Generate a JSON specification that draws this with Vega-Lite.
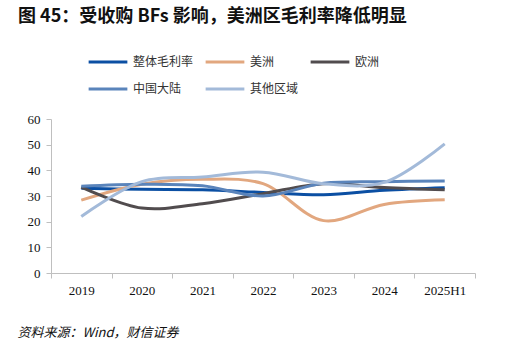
{
  "$schema": "https://vega.github.io/schema/vega-lite/v6.json",
  "width": 424,
  "height": 154,
  "autosize": {"type": "none"},
  "padding": {"left": 51, "top": 119, "right": 40, "bottom": 74},
  "background": "white",
  "title": {
    "text": "图 45：受收购 BFs 影响，美洲区毛利率降低明显",
    "anchor": "start",
    "frame": "group",
    "dx": -33,
    "font": "Noto Sans CJK SC",
    "fontSize": 18,
    "fontWeight": "bold",
    "color": "#111111",
    "offset": 15
  },
  "data": {
    "values": [
      {"year": "2019", "series": "整体毛利率", "value": 33.0},
      {"year": "2020", "series": "整体毛利率", "value": 32.6},
      {"year": "2021", "series": "整体毛利率", "value": 32.4},
      {"year": "2022", "series": "整体毛利率", "value": 31.4},
      {"year": "2023", "series": "整体毛利率", "value": 30.5},
      {"year": "2024", "series": "整体毛利率", "value": 32.2},
      {"year": "2025H1", "series": "整体毛利率", "value": 33.2},
      {"year": "2019", "series": "美洲", "value": 28.4},
      {"year": "2020", "series": "美洲", "value": 34.6},
      {"year": "2021", "series": "美洲", "value": 36.5},
      {"year": "2022", "series": "美洲", "value": 34.8},
      {"year": "2023", "series": "美洲", "value": 20.4},
      {"year": "2024", "series": "美洲", "value": 26.7},
      {"year": "2025H1", "series": "美洲", "value": 28.5},
      {"year": "2019", "series": "欧洲", "value": 33.5},
      {"year": "2020", "series": "欧洲", "value": 25.3},
      {"year": "2021", "series": "欧洲", "value": 27.0},
      {"year": "2022", "series": "欧洲", "value": 30.9},
      {"year": "2023", "series": "欧洲", "value": 34.8},
      {"year": "2024", "series": "欧洲", "value": 33.3},
      {"year": "2025H1", "series": "欧洲", "value": 32.4},
      {"year": "2019", "series": "中国大陆", "value": 33.8},
      {"year": "2020", "series": "中国大陆", "value": 34.6},
      {"year": "2021", "series": "中国大陆", "value": 34.0},
      {"year": "2022", "series": "中国大陆", "value": 30.0},
      {"year": "2023", "series": "中国大陆", "value": 35.0},
      {"year": "2024", "series": "中国大陆", "value": 35.6},
      {"year": "2025H1", "series": "中国大陆", "value": 35.8},
      {"year": "2019", "series": "其他区域", "value": 22.0},
      {"year": "2020", "series": "其他区域", "value": 35.6},
      {"year": "2021", "series": "其他区域", "value": 37.4},
      {"year": "2022", "series": "其他区域", "value": 39.3},
      {"year": "2023", "series": "其他区域", "value": 34.8},
      {"year": "2024", "series": "其他区域", "value": 35.3},
      {"year": "2025H1", "series": "其他区域", "value": 50.3}
    ]
  },
  "mark": {"type": "line", "interpolate": "catmull-rom", "strokeWidth": 3},
  "encoding": {
    "x": {
      "field": "year",
      "type": "nominal",
      "sort": ["2019", "2020", "2021", "2022", "2023", "2024", "2025H1"],
      "bandPosition": 0.5,
      "scale": {"type": "band", "paddingInner": 0, "paddingOuter": 0},
      "axis": {
        "title": "资料来源：Wind，财信证券",
        "titleFont": "Noto Sans CJK SC",
        "titleFontSize": 13,
        "titleFontWeight": "normal",
        "titleFontStyle": "italic",
        "titleColor": "#111111",
        "titleAnchor": "start",
        "titleAlign": "left",
        "titleX": -34,
        "titleY": 53,
        "labelAngle": 0,
        "labelFont": "Liberation Serif",
        "labelFontSize": 13,
        "labelColor": "#111111",
        "labelPadding": 6,
        "tickBand": "extent",
        "tickSize": 5,
        "tickColor": "#bfbfbf",
        "domainColor": "#bfbfbf",
        "grid": false
      }
    },
    "y": {
      "field": "value",
      "type": "quantitative",
      "scale": {"domain": [0, 60], "nice": false},
      "axis": {
        "title": null,
        "values": [0, 10, 20, 30, 40, 50, 60],
        "labelFont": "Liberation Serif",
        "labelFontSize": 13,
        "labelColor": "#111111",
        "labelPadding": 6,
        "tickSize": 5,
        "tickColor": "#bfbfbf",
        "domainColor": "#bfbfbf",
        "grid": false
      }
    },
    "color": {
      "field": "series",
      "type": "nominal",
      "scale": {
        "domain": ["整体毛利率", "美洲", "欧洲", "中国大陆", "其他区域"],
        "range": ["#0b4fa3", "#e2a77f", "#514c4e", "#5a84bb", "#a3bad9"]
      },
      "legend": {
        "title": null,
        "orient": "none",
        "legendX": 36,
        "legendY": -78,
        "columns": 3,
        "direction": "horizontal",
        "symbolType": "stroke",
        "symbolSize": 1500,
        "symbolStrokeWidth": 3,
        "labelFont": "Noto Sans CJK SC",
        "labelFontSize": 12,
        "labelColor": "#333333",
        "labelOffset": 4,
        "columnPadding": 5,
        "rowPadding": -13
      }
    }
  },
  "config": {"view": {"stroke": null}}
}
